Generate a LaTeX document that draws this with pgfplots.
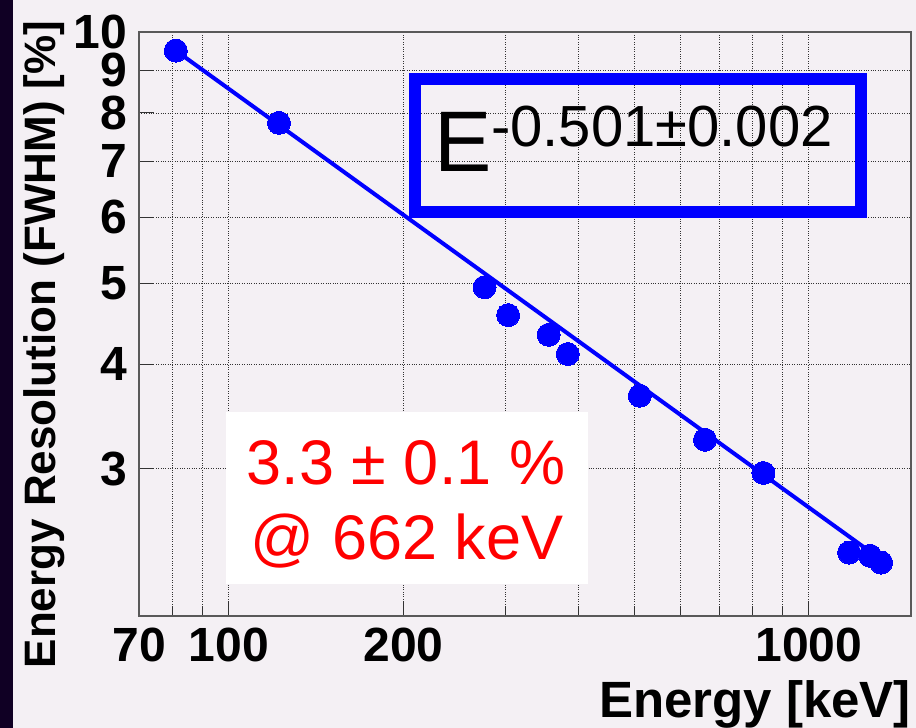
\documentclass[border=0pt]{standalone}
\usepackage{pgfplots}
\pgfplotsset{compat=1.18}
\usepackage{fontspec}
\setmainfont{Liberation Sans}

\definecolor{pagebg}{RGB}{244,240,244}
\definecolor{sidebar}{RGB}{16,0,36}
\definecolor{fitblue}{RGB}{0,0,255}
\definecolor{notered}{RGB}{255,0,0}

% measured resolution (FWHM, %) versus gamma energy (keV)
\pgfplotstableread{
E     R
81    9.50
122   7.785
276   4.949
303   4.583
356   4.341
384   4.117
511   3.670
662   3.251
835   2.966
1173  2.382
1275  2.361
1332  2.317
}\resdata

% power-law fit, E^-0.501, over the measured range
\pgfplotstableread{
E     R
81    9.50
1332  2.336
}\fitdata

\begin{document}
\begin{tikzpicture}
\path[use as bounding box] (0,0) rectangle (916bp,728bp);
\fill[pagebg] (0,0) rectangle (916bp,728bp);
\fill[sidebar] (0,0) rectangle (13.3bp,728bp);

\begin{axis}[
  at={(139bp,112bp)}, anchor=south west,
  scale only axis, width=772bp, height=584bp,
  xmode=log, ymode=log,
  xmin=70, xmax=1500, ymin=2, ymax=10,
  xtick={70,100,200,1000},
  xticklabels={70,100,200,1000},
  minor xtick={80,90,300,400,500,600,700,800,900},
  ytick={3,4,5,6,7,8,9,10},
  yticklabels={3,4,5,6,7,8,9,10},
  minor ytick={},
  tick align=inside,
  xtick pos=bottom, ytick pos=left,
  major tick length=15bp, minor tick length=9bp,
  tick style={black!80, line width=1bp},
  axis line style={draw=black!65, line width=1.6bp},
  grid=both,
  major grid style={black!80, dotted, line width=0.8bp},
  minor grid style={black!80, dotted, line width=0.8bp},
  ticklabel style={font=\fontsize{48bp}{48bp}\selectfont\bfseries, inner sep=0pt},
  xticklabel style={yshift=-12bp},
  yticklabel style={xshift=-12bp},
  xlabel={Energy [keV]},
  ylabel={Energy Resolution (FWHM) [\%]},
  xlabel style={font=\fontsize{51bp}{51bp}\selectfont\bfseries, inner sep=0pt,
    at={(axis description cs:1,0)}, anchor=base east, yshift=-102bp},
  ylabel style={font=\fontsize{44bp}{44bp}\selectfont\bfseries, inner sep=0pt,
    at={(axis description cs:-0.1088,0.465)}, anchor=base},
  clip=false,
]
\addplot[fitblue, line width=4bp, no marks] table[x=E, y=R] {\fitdata};
\addplot[only marks, mark=*, mark size=11.5bp,
  mark options={fill=fitblue, draw=fitblue, line width=0pt}] table[x=E, y=R] {\resdata};
\end{axis}

% fitted exponent
\draw[fitblue, line width=12bp] (415bp,515.5bp) rectangle (861bp,649bp);
\node[anchor=base west, inner sep=0pt, font=\fontsize{86bp}{86bp}\selectfont] at (434bp,556.3bp) {E};
\node[anchor=base west, inner sep=0pt, font=\fontsize{58bp}{58bp}\selectfont] at (491bp,581bp) {-0.501\char"00B1 0.002};

% resolution at the Cs-137 line
\fill[white] (226bp,143.7bp) rectangle (588bp,316.3bp);
\node[anchor=base, inner sep=0pt, text=notered, font=\fontsize{63bp}{63bp}\selectfont] at (406bp,243bp) {3.3 \char"00B1{} 0.1 \%};
\node[anchor=base, inner sep=0pt, text=notered, font=\fontsize{63bp}{63bp}\selectfont] at (407bp,168bp) {@ 662 keV};
\end{tikzpicture}
\end{document}
